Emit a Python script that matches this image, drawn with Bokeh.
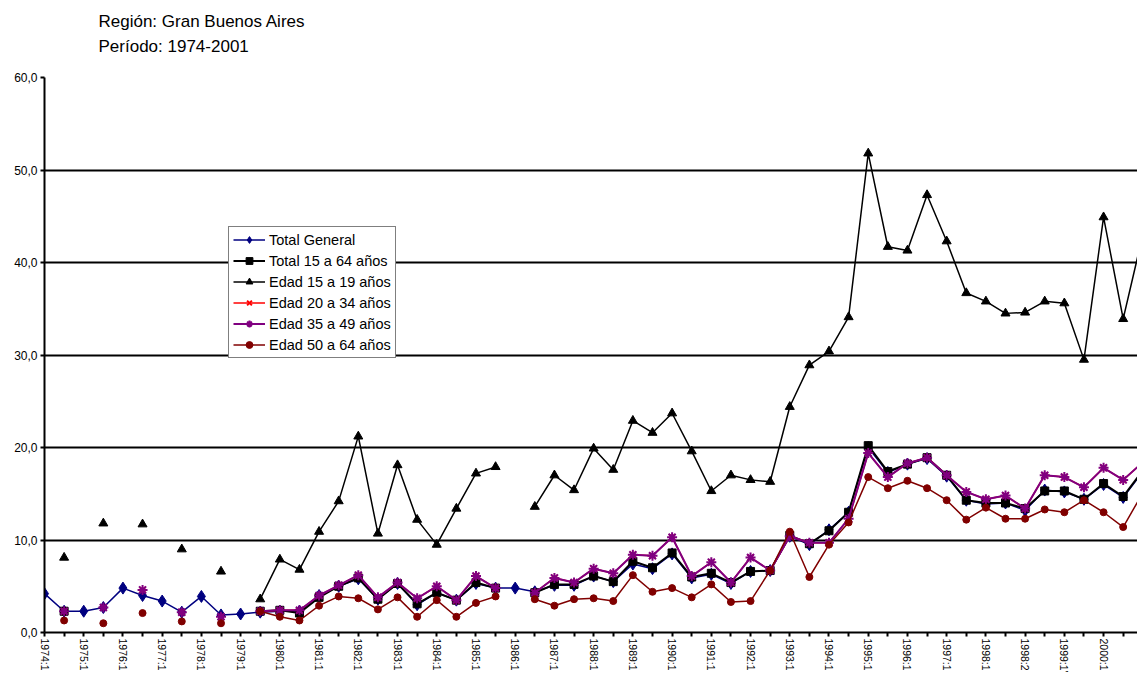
from bokeh.plotting import figure
from bokeh.models import FixedTicker, Legend, LegendItem, Title, Range1d, ColumnDataSource
from bokeh.embed import file_html
from bokeh.resources import INLINE

N = float("nan")

periodos = [
    "1974:1", "1974:2", "1975:1", "1975:2", "1976:1", "1976:2", "1977:1", "1977:2", "1978:1", "1978:2",
    "1979:1", "1979:2", "1980:1", "1980:2", "1981:1", "1981:2", "1982:1", "1982:2", "1983:1", "1983:2",
    "1984:1", "1984:2", "1985:1", "1985:2", "1986:1", "1986:2", "1987:1", "1987:2", "1988:1", "1988:2",
    "1989:1", "1989:2", "1990:1", "1990:2", "1991:1", "1991:2", "1992:1", "1992:2", "1993:1", "1993:2",
    "1994:1", "1994:2", "1995:1", "1995:2", "1996:1", "1996:2", "1997:1", "1997:2", "1998:1", "1998:1'",
    "1998:2", "1999:1", "1999:1'", "1999:2", "2000:1", "2000:2", "2001:1",
]

total_general = [
    4.2, 2.3, 2.3, 2.7, 4.8, 4.0, 3.4, 2.2, 3.9, 1.9,
    2.0, 2.2, 2.3, 2.3, 4.0, 5.0, 5.8, 3.6, 5.3, 3.0,
    4.3, 3.5, 5.3, 4.8, 4.8, 4.4, 5.1, 5.1, 6.1, 5.5,
    7.4, 6.9, 8.5, 5.9, 6.3, 5.3, 6.6, 6.7, 10.4, 9.5,
    11.1, 13.0, 20.0, 17.3, 18.2, 18.8, 16.9, 14.3, 13.9, 14.0,
    13.2, 15.4, 15.2, 14.4, 16.0, 14.6, 17.4,
]

total_15_64 = [
    N, 2.3, N, N, N, N, N, N, N, N,
    N, 2.3, 2.4, 2.1, 3.8, 5.0, 5.9, 3.6, 5.3, 3.1,
    4.3, 3.5, 5.4, 4.8, N, 4.3, 5.2, 5.2, 6.1, 5.5,
    7.7, 7.0, 8.6, 6.0, 6.4, 5.4, 6.6, 6.7, 10.5, 9.6,
    11.0, 13.0, 20.2, 17.4, 18.2, 18.9, 17.0, 14.3, 14.0, 14.0,
    13.4, 15.3, 15.3, 14.4, 16.1, 14.7, 17.5,
]

edad_15_19 = [
    N, 8.1, N, 11.8, N, 11.7, N, 9.0, N, 6.6,
    N, 3.6, 7.9, 6.8, 10.9, 14.2, 21.2, 10.7, 18.1, 12.2,
    9.5, 13.4, 17.2, 17.9, N, 13.6, 17.0, 15.4, 19.9, 17.6,
    22.9, 21.6, 23.7, 19.6, 15.3, 17.0, 16.5, 16.3, 24.4, 28.9,
    30.4, 34.1, 51.8, 41.7, 41.3, 47.3, 42.3, 36.7, 35.8, 34.5,
    34.6, 35.8, 35.6, 29.5, 44.9, 33.9, 43.0,
]

edad_20_34 = [
    N, 2.3, N, 2.7, N, 4.6, N, 2.2, N, 1.7,
    N, 2.3, 2.4, 2.4, 4.0, 5.1, 6.2, 3.8, 5.4, 3.7,
    5.0, 3.5, 6.1, 4.8, N, 4.3, 5.9, 5.4, 6.9, 6.4,
    8.4, 8.3, 10.3, 6.1, 7.6, 5.4, 8.1, 6.7, 10.4, 9.7,
    9.7, 12.3, 19.4, 16.8, 18.3, 18.9, 17.0, 15.2, 14.4, 14.8,
    13.4, 17.0, 16.8, 15.7, 17.8, 16.5, 18.4,
]

edad_35_49 = [
    N, 2.3, N, 2.7, N, 4.6, N, 2.2, N, 1.7,
    N, 2.3, 2.4, 2.4, 4.0, 5.1, 6.2, 3.8, 5.4, 3.7,
    5.0, 3.5, 6.1, 4.8, N, 4.3, 5.9, 5.4, 6.9, 6.4,
    8.4, 8.3, 10.3, 6.1, 7.6, 5.4, 8.1, 6.7, 10.4, 9.7,
    9.7, 12.3, 19.4, 16.8, 18.3, 18.9, 17.0, 15.2, 14.4, 14.8,
    13.4, 17.0, 16.8, 15.7, 17.8, 16.5, 18.4,
]

edad_50_64 = [
    N, 1.3, N, 1.0, N, 2.1, N, 1.2, N, 1.0,
    N, 2.3, 1.7, 1.3, 2.9, 3.9, 3.7, 2.5, 3.8, 1.7,
    3.5, 1.7, 3.2, 3.9, N, 3.6, 2.9, 3.6, 3.7, 3.4,
    6.2, 4.4, 4.8, 3.8, 5.2, 3.3, 3.4, 6.7, 10.9, 6.0,
    9.5, 11.9, 16.8, 15.6, 16.4, 15.6, 14.3, 12.2, 13.5, 12.3,
    12.3, 13.3, 13.0, 14.3, 13.0, 11.4, 15.1,
]

y_ticks = [0, 10, 20, 30, 40, 50, 60]
y_tick_labels = ["0,0", "10,0", "20,0", "30,0", "40,0", "50,0", "60,0"]

subtitulo = "Región: Gran Buenos Aires\nPeríodo: 1974-2001"

xs = list(range(len(periodos)))

p = figure(
    width=1137, height=675,
    output_backend="svg", toolbar_location=None,
    x_range=Range1d(0, 55.73), y_range=Range1d(0, 60),
    min_border_left=44, min_border_right=0, min_border_top=76, min_border_bottom=0,
    background_fill_color="white", border_fill_color="white",
)
p.outline_line_color = None

# spacer between the subtitle block and the plot area
p.add_layout(Title(text=" ", text_font_size="1px", standoff=9), "above")
p.add_layout(Title(text=subtitulo, align="left", offset=54, standoff=19,
                   text_font="Liberation Sans", text_font_size="17px",
                   text_line_height=1.3,
                   text_font_style="normal", text_color="black"), "above")

# axes
p.xaxis.ticker = FixedTicker(ticks=xs)
p.xaxis.major_label_overrides = {i: (lab if i % 2 == 0 else "") for i, lab in enumerate(periodos)}
p.xaxis.major_label_orientation = "vertical"
p.xaxis.major_label_text_font = "Liberation Sans"
p.xaxis.major_label_text_font_size = "10.5px"
p.xaxis.major_label_text_color = "black"
p.xaxis.major_label_standoff = 2
p.xaxis.major_tick_out = 4
p.xaxis.major_tick_in = 0
p.xaxis.minor_tick_line_color = None
p.xaxis.axis_line_width = 2
p.xaxis.axis_line_color = "black"
p.xaxis.major_tick_line_width = 2

p.yaxis.ticker = FixedTicker(ticks=y_ticks)
p.yaxis.major_label_overrides = dict(zip(y_ticks, y_tick_labels))
p.yaxis.major_label_text_font = "Liberation Sans"
p.yaxis.major_label_text_font_size = "12px"
p.yaxis.major_label_text_color = "black"
p.yaxis.major_label_standoff = 3
p.yaxis.major_tick_out = 4
p.yaxis.major_tick_in = 0
p.yaxis.minor_tick_line_color = None
p.yaxis.axis_line_width = 2
p.yaxis.axis_line_color = "black"
p.yaxis.major_tick_line_width = 2

p.xgrid.grid_line_color = None
p.ygrid.grid_line_color = "black"
p.ygrid.grid_line_width = 2

series = [
    ("Total General", total_general, "#000080", "diamond", 12, 1.5),
    ("Total 15 a 64 años", total_15_64, "#000000", "square", 8, 2),
    ("Edad 15 a 19 años", edad_15_19, "#000000", "triangle", 9, 1.5),
    ("Edad 20 a 34 años", edad_20_34, "#FF0000", "x", 8, 1.5),
    ("Edad 35 a 49 años", edad_35_49, "#800080", "asterisk", 10, 2),
    ("Edad 50 a 64 años", edad_50_64, "#800000", "circle", 7, 1.5),
]

items = []
for name, vals, color, marker, size, lw in series:
    src = ColumnDataSource(dict(x=xs, y=vals))
    ln = p.line("x", "y", source=src, line_color=color, line_width=lw)
    sc = p.scatter("x", "y", source=src, marker=marker, size=size,
                   fill_color=color, line_color=color,
                   line_width=2 if marker in ("x", "asterisk") else 1)
    items.append(LegendItem(label=name, renderers=[ln, sc]))

legend = Legend(
    items=items, location=(184, 274),
    border_line_color="black", border_line_width=1,
    background_fill_color="white", background_fill_alpha=1.0,
    label_text_font="Liberation Sans", label_text_font_size="14.5px",
    label_text_color="black",
    padding=4, spacing=4, margin=0,
    glyph_width=32, glyph_height=17, label_height=17, label_standoff=4,
)
p.add_layout(legend)

open("out.html", "w").write(file_html(p, INLINE))
